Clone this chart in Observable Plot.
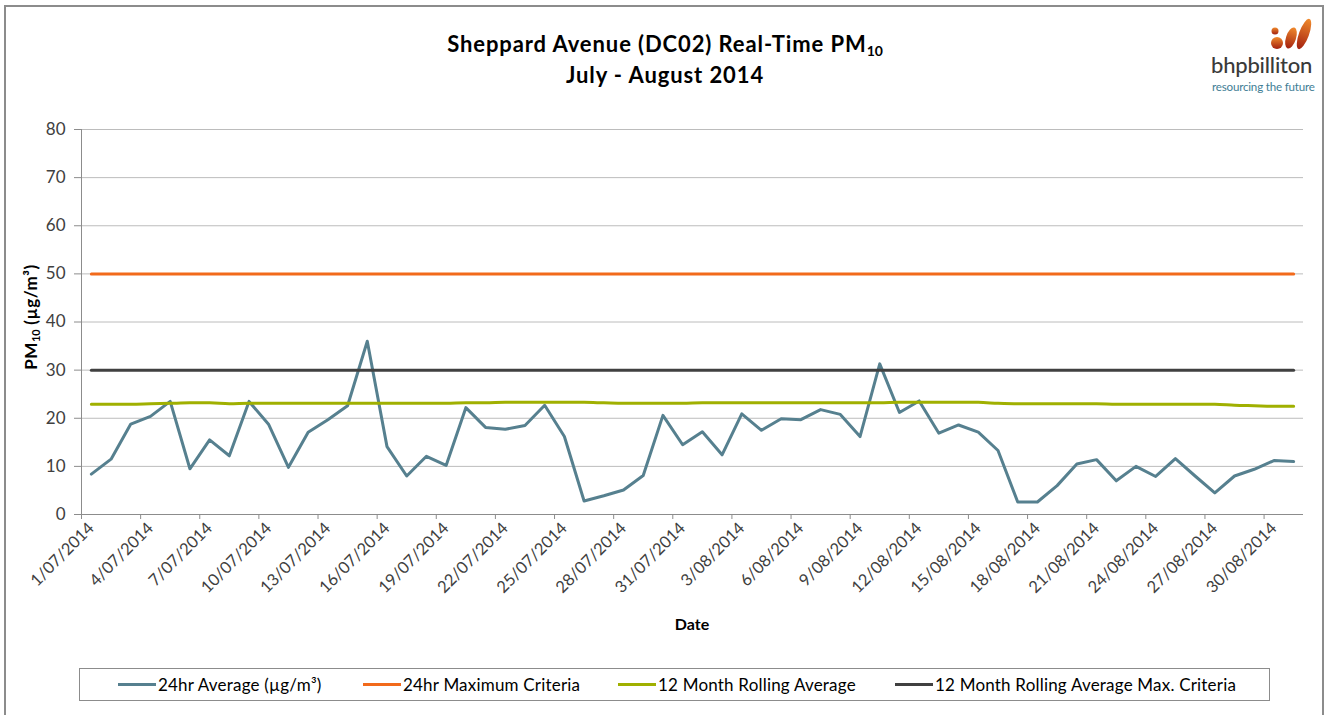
<!DOCTYPE html>
<html>
<head>
<meta charset="utf-8">
<script src="https://cdn.jsdelivr.net/npm/d3@7"></script>
<script src="https://cdn.jsdelivr.net/npm/@observablehq/plot@0.6"></script>
<style>
  html, body { margin: 0; padding: 0; background: #fff; }
  #wrap { position: relative; width: 1330px; height: 715px; overflow: hidden; font-family: Lato, "Open Sans", sans-serif; }
  #border { position: absolute; left: 4px; top: 5px; width: 1320px; height: 720px; border: 2px solid #8c8c8c; box-sizing: border-box; }
  #chart { position: absolute; left: 0; top: 0; }
  .title { position: absolute; left: 5px; width: 1320px; text-align: center; font-weight: bold; font-size: 22px; letter-spacing: 0.9px; color: #000; }
  .title sub { font-size: 14px; vertical-align: -4px; line-height: 0; letter-spacing: 0; }
  #ylab { position: absolute; left: 30px; top: 317px; transform: translate(-50%, -50%) rotate(-90deg); white-space: nowrap; font-weight: bold; font-size: 17px; letter-spacing: 0.5px; color: #000; }
  #ylab sub { font-size: 11px; vertical-align: -3px; line-height: 0; letter-spacing: 0; }
  #xlab { position: absolute; left: 692px; top: 623px; transform: translate(-50%, -50%); font-weight: bold; font-size: 16px; color: #000; }
  #legend { position: absolute; left: 79px; top: 668px; width: 1191px; height: 33px; border: 1px solid #8c8c8c; box-sizing: border-box; }
  .li { position: absolute; top: 0; height: 31px; display: flex; align-items: center; font-size: 17px; letter-spacing: 0.2px; color: #000; white-space: nowrap; }
  .sw { display: inline-block; width: 38px; height: 3px; margin-right: 2px; }
  #logo-text { position: absolute; left: 1211px; top: 51px; font-size: 22px; font-weight: 500; color: #3a3a3a; letter-spacing: -0.2px; }
  #logo-sub { position: absolute; left: 1212px; top: 80px; font-size: 11.6px; color: #3f7e95; letter-spacing: -0.2px; }
  #logo-svg { position: absolute; left: 0; top: 0; }
</style>
</head>
<body>
<div id="wrap">
  <div id="border"></div>
  <div id="chart"></div>
  <div class="title" style="top:30px">Sheppard Avenue (DC02) Real-Time PM<sub>10</sub></div>
  <div class="title" style="top:61px">July - August 2014</div>
  <div id="ylab">PM<sub>10</sub> (µg/m³)</div>
  <div id="xlab">Date</div>
  <div id="legend"></div>
  <svg id="logo-svg" width="1330" height="100">
    <defs>
      <linearGradient id="lg" x1="0" y1="0" x2="0" y2="1">
        <stop offset="0" stop-color="#f08a2c"/>
        <stop offset="1" stop-color="#a3200f"/>
      </linearGradient>
    </defs>
    <circle cx="1275" cy="31" r="3.5" fill="url(#lg)"/>
    <circle cx="1277" cy="43" r="6" fill="url(#lg)"/>
    <ellipse cx="1291" cy="38" rx="5" ry="11" transform="rotate(18 1291 38)" fill="url(#lg)"/>
    <ellipse cx="1304" cy="34" rx="5" ry="16" transform="rotate(20 1304 34)" fill="url(#lg)"/>
  </svg>
  <div id="logo-text">bhpbilliton</div>
  <div id="logo-sub">resourcing the future</div>
</div>
<script>
// ---- Data ----
const dates = [
  "1/07/2014","2/07/2014","3/07/2014","4/07/2014","5/07/2014","6/07/2014","7/07/2014","8/07/2014",
  "9/07/2014","10/07/2014","11/07/2014","12/07/2014","13/07/2014","14/07/2014","15/07/2014","16/07/2014",
  "17/07/2014","18/07/2014","19/07/2014","20/07/2014","21/07/2014","22/07/2014","23/07/2014","24/07/2014",
  "25/07/2014","26/07/2014","27/07/2014","28/07/2014","29/07/2014","30/07/2014","31/07/2014",
  "1/08/2014","2/08/2014","3/08/2014","4/08/2014","5/08/2014","6/08/2014","7/08/2014","8/08/2014",
  "9/08/2014","10/08/2014","11/08/2014","12/08/2014","13/08/2014","14/08/2014","15/08/2014","16/08/2014",
  "17/08/2014","18/08/2014","19/08/2014","20/08/2014","21/08/2014","22/08/2014","23/08/2014","24/08/2014",
  "25/08/2014","26/08/2014","27/08/2014","28/08/2014","29/08/2014","30/08/2014","31/08/2014"
];
const avg24hr = [
  8.4, 11.5, 18.8, 20.4, 23.5, 9.5, 15.5, 12.2, 23.5, 18.7, 9.8, 17.1, 19.7, 22.6, 36.0, 14.1,
  8.0, 12.1, 10.2, 22.2, 18.1, 17.7, 18.5, 22.7, 16.2, 2.8, 3.9, 5.1, 8.1, 20.6, 14.5,
  17.2, 12.4, 20.9, 17.5, 19.9, 19.7, 21.8, 20.8, 16.2, 31.3, 21.2, 23.6, 16.9, 18.6, 17.1, 13.3,
  2.6, 2.6, 6.0, 10.5, 11.4, 7.0, 10.0, 7.9, 11.6, 8.0, 4.5, 8.0, 9.4, 11.2, 11.0
];
const rolling12m = [
  22.9, 22.9, 22.9, 23.0, 23.1, 23.2, 23.2, 23.0, 23.1, 23.1, 23.1, 23.1, 23.1, 23.1, 23.1, 23.1,
  23.1, 23.1, 23.1, 23.2, 23.2, 23.3, 23.3, 23.3, 23.3, 23.3, 23.2, 23.1, 23.1, 23.1, 23.1,
  23.2, 23.2, 23.2, 23.2, 23.2, 23.2, 23.2, 23.2, 23.2, 23.2, 23.3, 23.3, 23.3, 23.3, 23.3, 23.1,
  23.0, 23.0, 23.0, 23.0, 23.0, 22.9, 22.9, 22.9, 22.9, 22.9, 22.9, 22.7, 22.6, 22.5, 22.5
];
const max24hrCriteria = 50;
const rollingMaxCriteria = 30;
const yTicks = [0, 10, 20, 30, 40, 50, 60, 70, 80];
const tickLabelIndex = [0, 3, 6, 9, 12, 15, 18, 21, 24, 27, 30, 33, 36, 39, 42, 45, 48, 51, 54, 57, 60];

const seriesNames = ["24hr Average (µg/m³)", "24hr Maximum Criteria", "12 Month Rolling Average", "12 Month Rolling Average Max. Criteria"];
const seriesColors = ["#56808f", "#f26a1b", "#a0b000", "#404040"];

// ---- Build rows ----
const rows = dates.map((d, i) => ({
  x: i + 0.5,
  avg: avg24hr[i],
  maxc: max24hrCriteria,
  roll: rolling12m[i],
  rollc: rollingMaxCriteria
}));

const chart = Plot.plot({
  width: 1330,
  height: 715,
  marginTop: 129,
  marginBottom: 201,
  marginLeft: 81,
  marginRight: 27,
  style: { fontFamily: "Lato, 'Open Sans', sans-serif", background: "transparent" },
  x: { type: "linear", domain: [0, dates.length] },
  y: { domain: [0, 80] },
  marks: [
    Plot.gridY(yTicks.filter(d => d > 0), { stroke: "#bcbcbc", strokeOpacity: 1, strokeWidth: 1 }),
    Plot.ruleX([0], { stroke: "#8c8c8c", strokeWidth: 1 }),
    Plot.ruleY([0], { stroke: "#8c8c8c", strokeWidth: 1 }),
    Plot.axisY(yTicks, { tickSize: 7, tickPadding: 9, stroke: "#8c8c8c", fill: "#404040", fontSize: 17, label: null }),
    Plot.axisX(tickLabelIndex, { tickSize: 5, tickFormat: () => "", stroke: "#8c8c8c", label: null }),
    Plot.axisX(tickLabelIndex.map(i => i + 0.5), {
      tickSize: 0, tickPadding: 11, tickRotate: -45, fontSize: 16.5, fill: "#404040",
      tickFormat: v => dates[Math.floor(v)], label: null
    }),
    Plot.line(rows, { x: "x", y: "avg", stroke: seriesColors[0], strokeWidth: 3, strokeLinejoin: "round" }),
    Plot.line(rows, { x: "x", y: "maxc", stroke: seriesColors[1], strokeWidth: 3 }),
    Plot.line(rows, { x: "x", y: "roll", stroke: seriesColors[2], strokeWidth: 3, curve: "monotone-x" }),
    Plot.line(rows, { x: "x", y: "rollc", stroke: seriesColors[3], strokeWidth: 3 })
  ]
});
document.getElementById("chart").appendChild(chart);

// ---- Legend ----
const legendX = [38, 283, 538, 815];
const legend = document.getElementById("legend");
seriesNames.forEach((name, k) => {
  const el = document.createElement("div");
  el.className = "li";
  el.style.left = legendX[k] + "px";
  el.innerHTML = `<span class="sw" style="background:${seriesColors[k]}"></span>${name}`;
  legend.appendChild(el);
});
</script>
</body>
</html>
